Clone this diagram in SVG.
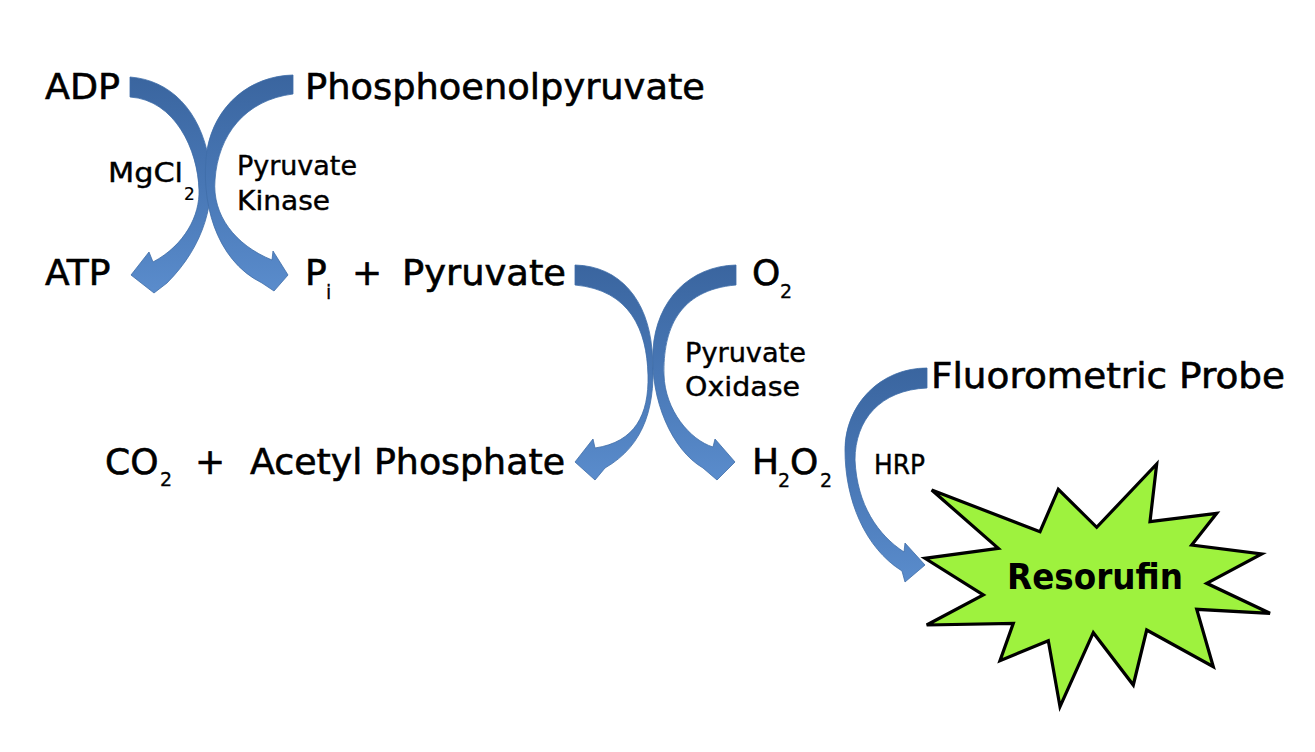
<svg xmlns="http://www.w3.org/2000/svg" width="1315" height="752" viewBox="0 0 1315 752">
<style>
.main{font-family:"DejaVu Sans","Liberation Sans",sans-serif;font-size:36px;fill:#000;stroke:#000;stroke-width:0.6}
.lbl{font-family:"DejaVu Sans","Liberation Sans",sans-serif;font-size:26px;fill:#000;stroke:#000;stroke-width:0.4}
.sub{font-family:"DejaVu Sans","Liberation Sans",sans-serif;font-size:19px;fill:#000;stroke:#000;stroke-width:0.3}
.subs{font-family:"DejaVu Sans","Liberation Sans",sans-serif;font-size:17px;fill:#000;stroke:#000;stroke-width:0.2}
.res{font-family:"DejaVu Sans","Liberation Sans",sans-serif;font-size:36px;font-weight:bold;fill:#000}
.arr{fill:url(#blueGrad);stroke:#3F6DA8;stroke-width:0.8;stroke-linejoin:round}
</style>
<defs>
<linearGradient id="blueGrad" x1="0" y1="0" x2="0" y2="1">
<stop offset="0" stop-color="#3A659F"/>
<stop offset="0.5" stop-color="#4877B5"/>
<stop offset="1" stop-color="#5A8CCC"/>
</linearGradient>
</defs>
<rect width="1315" height="752" fill="#fff"/>
<g id="connectors">
<path id="arrow-adp-atp" class="arr" d="M130,77 C170,80 200,110 209,160 C216,200 205,245 167,283 L154,293 L131,275 L149,252 L153,262 C185,245 200,215 199,190 C198,150 175,100 130,97 Z"/>
<path id="arrow-pep-pi" class="arr" d="M293,75 C250,76 215,105 207,150 C200,200 215,260 262,283 L274,291 L288,275 L273,251 L272,260 C235,245 212,215 215,180 C218,135 245,100 293,94 Z"/>
<path id="arrow-pyr-acp" class="arr" d="M575,265 C620,266 648,300 652,350 C657,405 645,445 605,468 L595,480 L575,462 L593,439 L595,448 C635,442 649,415 648,375 C647,330 630,290 575,285 Z"/>
<path id="arrow-o2-h2o2" class="arr" d="M736,265 C690,266 656,300 653,350 C650,400 672,450 703,468 L717,480 L735,462 L715,439 L713,447 C690,440 665,410 664,375 C663,330 678,290 736,285 Z"/>
<path id="arrow-probe-res" class="arr" d="M927,368 C880,368 845,405 845,450 C845,500 865,548 902,571 L905,582 L925,565 L905,543 L904,552 C878,535 857,505 855,460 C855,420 880,390 927,388 Z"/>
</g>
<g id="node-adp"><text class="main" x="45" y="99" textLength="75" lengthAdjust="spacingAndGlyphs">ADP</text></g>
<g id="node-pep"><text class="main" x="305" y="99" textLength="400" lengthAdjust="spacingAndGlyphs">Phosphoenolpyruvate</text></g>
<g id="label-mgcl2"><text class="lbl" x="108" y="182" textLength="75" lengthAdjust="spacingAndGlyphs">MgCl</text><text class="subs" x="184" y="200">2</text></g>
<g id="label-pk"><text class="lbl" x="237" y="175" textLength="120" lengthAdjust="spacingAndGlyphs">Pyruvate</text><text class="lbl" x="237" y="210" textLength="93" lengthAdjust="spacingAndGlyphs">Kinase</text></g>
<g id="node-atp"><text class="main" x="45" y="285">ATP</text></g>
<g id="node-pi-pyruvate"><text class="main" x="305" y="285">P</text><text class="sub" x="326" y="299">i</text><text class="main" x="352" y="285">+</text><text class="main" x="402" y="285" textLength="164" lengthAdjust="spacingAndGlyphs">Pyruvate</text></g>
<g id="node-o2"><text class="main" x="752" y="285">O</text><text class="sub" x="780" y="298">2</text></g>
<g id="label-po"><text class="lbl" x="685" y="362" textLength="121" lengthAdjust="spacingAndGlyphs">Pyruvate</text><text class="lbl" x="685" y="396" textLength="115" lengthAdjust="spacingAndGlyphs">Oxidase</text></g>
<g id="node-probe"><text class="main" x="931" y="388" textLength="354" lengthAdjust="spacingAndGlyphs">Fluorometric Probe</text></g>
<g id="node-co2-acp"><text class="main" x="105" y="474">CO</text><text class="sub" x="160" y="486">2</text><text class="main" x="195" y="474">+</text><text class="main" x="250" y="474" textLength="315" lengthAdjust="spacingAndGlyphs">Acetyl Phosphate</text></g>
<g id="node-h2o2"><text class="main" x="752" y="474">H</text><text class="sub" x="778" y="487">2</text><text class="main" x="790" y="474">O</text><text class="sub" x="820" y="487">2</text></g>
<g id="label-hrp"><text class="lbl" x="874" y="474" textLength="51" lengthAdjust="spacingAndGlyphs">HRP</text></g>
<g id="node-resorufin">
<polygon points="931.7,490 1040,531.7 1058.3,489.3 1096.7,527.3 1156.7,464 1150,521.7 1216.7,513.3 1191.7,545 1261.7,554 1206.7,583.3 1270,613.3 1196.7,609.3 1213.3,666.7 1146.7,630 1133.3,685 1093.3,632.7 1060,706.7 1048.3,640.7 1000,660.7 1013.3,623.3 926.7,625 983.3,595 925,558.3 998.3,548.3" fill="#9EF23E" stroke="#000" stroke-width="3.2" stroke-linejoin="miter"/>
<text class="res" x="1007" y="589" textLength="176" lengthAdjust="spacingAndGlyphs">Resorufin</text>
</g>
</svg>
